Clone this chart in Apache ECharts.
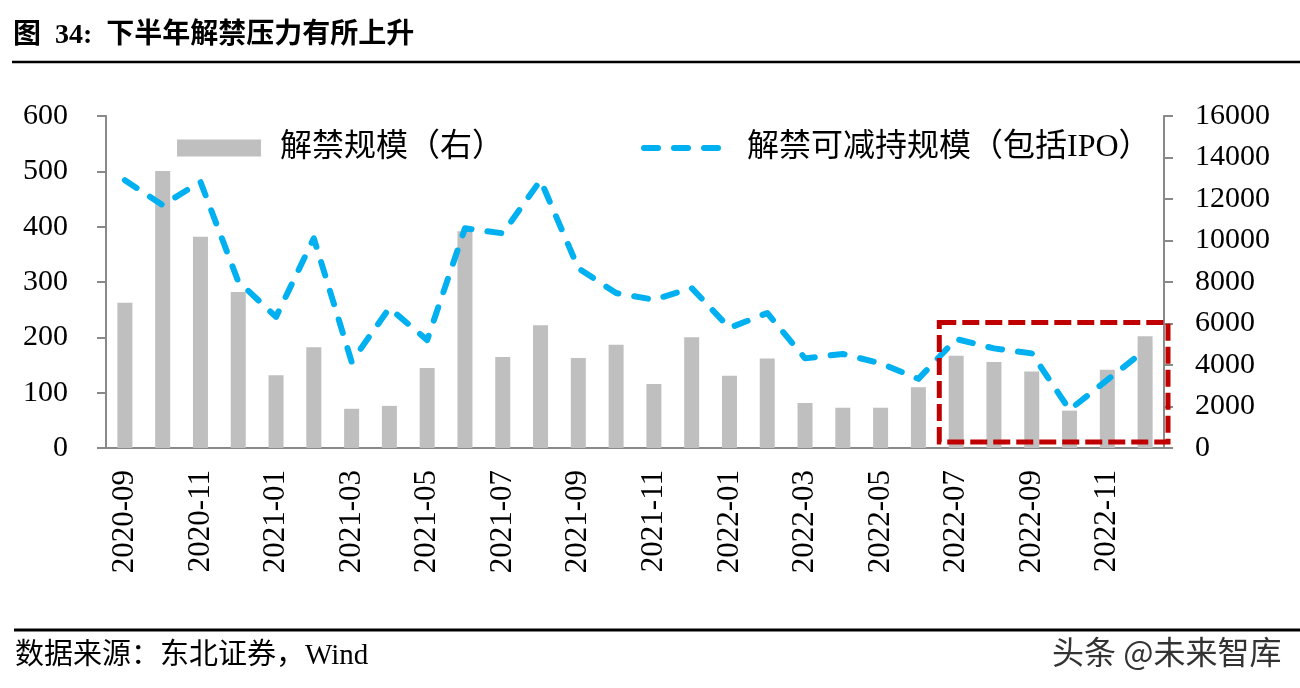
<!DOCTYPE html>
<html>
<head>
<meta charset="utf-8">
<script src="https://cdn.jsdelivr.net/npm/echarts@6/dist/echarts.min.js"></script>
<style>
html,body{margin:0;padding:0;background:#fff;}
#c{width:1300px;height:688px;}
</style>
</head>
<body>
<div id="c"></div>
<script>
var months = ['2020-09','2020-10','2020-11','2020-12','2021-01','2021-02','2021-03','2021-04','2021-05','2021-06','2021-07','2021-08','2021-09','2021-10','2021-11','2021-12','2022-01','2022-02','2022-03','2022-04','2022-05','2022-06','2022-07','2022-08','2022-09','2022-10','2022-11','2022-12'];
var unlockScale = [7000,13350,10180,7520,3510,4860,1890,2030,3860,10440,4380,5920,4340,4980,3090,5340,3480,4310,2170,1940,1940,2930,4440,4140,3690,1800,3770,5390];
var reducible = [484,439,481,301,237,379,156,253,195,397,388,484,325,280,268,289,217,244,162,170,153,125,197,180,171,69,123,177];
var leftTicks = {min:0,max:600,interval:100};
var rightTicks = {min:0,max:16000,interval:2000};
var barName = '解禁规模（右）';
var lineName = '解禁可减持规模（包括IPO）';
var titleText = '图  34:  下半年解禁压力有所上升';
var sourceText = '数据来源：东北证券，Wind';
var watermark = '头条 @未来智库';

var FONT = "'Liberation Serif','Noto Sans CJK SC',serif";
var AXIS_COLOR = '#898989';
var LINE_DASH = [14,16];

var chart = echarts.init(document.getElementById('c'), null, {renderer:'canvas'});
var option = {
  backgroundColor:'#fff',
  animation:false,
  textStyle:{fontFamily:FONT,color:'#000'},
  grid:{left:106,right:136,top:116,bottom:240,containLabel:false},
  legend:[
    {data:[{name:barName,icon:'rect'}],left:177,top:132,padding:0,itemWidth:84,itemHeight:17,
     textStyle:{fontFamily:FONT,fontSize:32,color:'#000',padding:[0,0,0,14]}},
    {data:[lineName],left:638,top:132,padding:0,itemWidth:80,itemHeight:17,
     itemStyle:{opacity:0},
     lineStyle:{color:'#00B0F0',width:6,type:LINE_DASH,cap:'round',dashOffset:-3},
     textStyle:{fontFamily:FONT,fontSize:32,color:'#000',padding:[0,0,0,21]}}
  ],
  xAxis:{
    type:'category',data:months,boundaryGap:true,
    axisLine:{lineStyle:{color:AXIS_COLOR,width:2}},
    axisTick:{interval:1,length:9,lineStyle:{color:AXIS_COLOR,width:2}},
    axisLabel:{interval:1,rotate:90,margin:22,fontFamily:FONT,fontSize:31,color:'#000'}
  },
  yAxis:[
    {type:'value',min:leftTicks.min,max:leftTicks.max,interval:leftTicks.interval,position:'left',
     splitLine:{show:false},
     axisLine:{show:true,lineStyle:{color:AXIS_COLOR,width:2}},
     axisTick:{show:true,length:9,lineStyle:{color:AXIS_COLOR,width:2}},
     axisLabel:{margin:38,fontFamily:FONT,fontSize:30,color:'#000',formatter:function(v){return String(v);}}},
    {type:'value',min:rightTicks.min,max:rightTicks.max,interval:rightTicks.interval,position:'right',
     splitLine:{show:false},
     axisLine:{show:true,lineStyle:{color:AXIS_COLOR,width:2}},
     axisTick:{show:true,length:9,lineStyle:{color:AXIS_COLOR,width:2}},
     axisLabel:{margin:31,fontFamily:FONT,fontSize:30,color:'#000',formatter:function(v){return String(v);}}}
  ],
  series:[
    {name:barName,type:'bar',yAxisIndex:1,data:unlockScale,barWidth:15,
     itemStyle:{color:'#BFBFBF'},z:2},
    {name:lineName,type:'line',yAxisIndex:0,data:reducible,symbol:'none',z:5,
     itemStyle:{color:'#00B0F0'},
     lineStyle:{color:'#00B0F0',width:6,type:LINE_DASH,cap:'round',join:'round'}}
  ]
};
chart.setOption(option);

var xL = chart.convertToPixel({xAxisIndex:0},'2022-07');
var xR = chart.convertToPixel({xAxisIndex:0},'2022-12');
var band = chart.convertToPixel({xAxisIndex:0},'2020-10') - chart.convertToPixel({xAxisIndex:0},'2020-09');
var yTop = chart.convertToPixel({yAxisIndex:1},6050);
var yBot = chart.convertToPixel({yAxisIndex:1},0);
var rx = xL - band/2 + 2, rw = (xR + band/2 + 4) - rx;
var ry = yTop, rh = (yBot - 6) - ry;

chart.setOption({
  graphic:[
    {type:'text',left:13,top:22,style:{text:titleText,font:"bold 28px 'Liberation Serif','Noto Sans CJK SC',serif",fill:'#000'}},
    {type:'line',shape:{x1:12,y1:62,x2:1300,y2:62},style:{stroke:'#000',lineWidth:2.5}},
    {type:'line',shape:{x1:14,y1:630,x2:1300,y2:630},style:{stroke:'#000',lineWidth:3}},
    {type:'text',left:15,top:642,style:{text:sourceText,font:"29px 'Liberation Serif','Noto Sans CJK SC',serif",fill:'#000'}},
    {type:'text',right:18,top:635,style:{text:watermark,font:"32px 'Noto Sans CJK SC',sans-serif",fill:'#333',stroke:'#fff',lineWidth:1}},
    {type:'rect',z:100,shape:{x:rx,y:ry,width:rw,height:rh},
     style:{fill:null,stroke:'#C00000',lineWidth:5,lineDash:[17,6]}}
  ]
});
</script>
</body>
</html>
